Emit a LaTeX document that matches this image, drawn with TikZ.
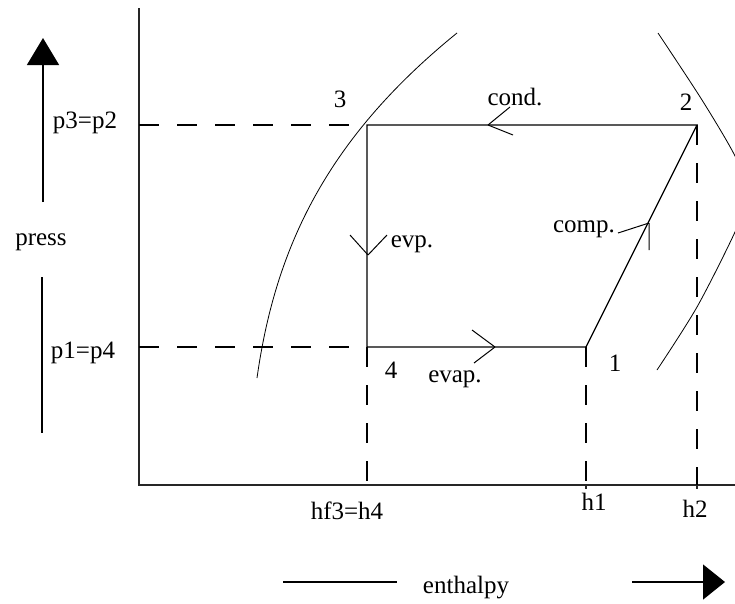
\documentclass[tikz,border=0pt]{standalone}
\usepackage{fontspec}
\setmainfont{Liberation Serif}
\usetikzlibrary{arrows.meta}

\begin{document}
\begin{tikzpicture}[x=1pt, y=-1pt,
  axis/.style={line width=1.4pt, black!85},
  cyc/.style={line width=1.2pt},
  guide/.style={line width=1.2pt, dash pattern=on 20pt off 18pt},
  sat/.style={line width=0.8pt},
  barb/.style={line width=1pt},
  lab/.style={inner sep=0pt, anchor=base, font=\fontsize{25}{30}\selectfont},
  parr/.style={line width=1.3pt, -{Triangle[length=27pt, width=32pt]}},
  harr/.style={line width=1.3pt, -{Triangle[length=22pt, width=35pt]}}]
  \useasboundingbox (0,0) rectangle (735,603);
  % axes
  \coordinate (o) at (139,485);
  \coordinate (ytop) at (139,8);
  \coordinate (xend) at (735,485);
  \draw[axis] (ytop) -- (o) -- (xend);
  % state points
  \coordinate (s1) at (586,347);
  \coordinate (s2) at (697,125);
  \coordinate (s3) at (367,125);
  \coordinate (s4) at (367,347);
  % feet on the axes
  \coordinate (py3) at (139,125);
  \coordinate (py4) at (139,347);
  \coordinate (hx4) at (367,485);
  \coordinate (hx1) at (586,485);
  \coordinate (hx2) at (697,485);
  % guides
  \draw[guide] (py3) -- (s3);
  \draw[guide] (py4) -- (s4);
  \draw[guide] (s4) -- (hx4);
  \draw[guide] (s1) -- (hx1);
  \draw[guide] (s2) -- (hx2);
  \draw[axis] (hx1) -- ++(0,4) (hx2) -- ++(0,4);
  % cycle
  \draw[cyc] (s1) -- (s2) -- (s3) -- (s4) -- (s1);
  % direction marks
  \coordinate (condtip) at (488,125);
  \coordinate (evptip) at (368,255);
  \coordinate (evaptip) at (495,347);
  \coordinate (comptip) at (649,223);
  \draw[barb] (condtip) -- ++(22,-18) (condtip) -- ++(25,10);
  \draw[barb] (evptip) -- ++(-18,-20) (evptip) -- ++(19,-20);
  \draw[barb] (evaptip) -- ++(-23,-17) (evaptip) -- ++(-21,16);
  \draw[barb] (comptip) -- ++(-31,10) (comptip) -- ++(0,27);
  % saturation curves
  \coordinate (liqlo) at (257,378);
  \coordinate (liqhi) at (457,33);
  \draw[sat] (liqlo) .. controls (275,250) and (325,140) .. (liqhi);
  \begin{scope}
    \clip (0,0) rectangle (735,603);
    \draw[sat] plot[smooth] coordinates {(658,33) (702,100) (735,156) (749,194) (735,232) (697,307) (657,370)};
  \end{scope}
  % point labels
  \node[lab] (l3) at (340,107) {3};
  \node[lab] (l2) at (686,110) {2};
  \node[lab] (l4) at (391,378) {4};
  \node[lab] (l1) at (615,371) {1};
  % process labels
  \node[lab] (cond) at (515,105) {cond.};
  \node[lab] (comp) at (584,232) {comp.};
  \node[lab] (evp) at (412,247) {evp.};
  \node[lab] (evap) at (455,382) {evap.};
  % pressure side
  \node[lab] (pk) at (85,128) {p3=p2};
  \node[lab] (pe) at (83,358) {p1=p4};
  \node[lab] (press) at (41,245) {press};
  \coordinate (pbot) at (43,202);
  \coordinate (ptop) at (43,38);
  \coordinate (plo) at (42,277);
  \coordinate (plo2) at (42,433);
  \draw[parr] (pbot) -- (ptop);
  \draw[line width=1.3pt] (plo) -- (plo2);
  % enthalpy side
  \node[lab] (hf) at (347,519) {hf3=h4};
  \node[lab] (h1) at (594,510) {h1};
  \node[lab] (h2) at (695,517) {h2};
  \node[lab] (enth) at (466,593) {enthalpy};
  \coordinate (ha) at (283,582);
  \coordinate (hb) at (397,582);
  \coordinate (hc) at (632,582);
  \coordinate (hd) at (725,582);
  \draw[line width=1.3pt] (ha) -- (hb);
  \draw[harr] (hc) -- (hd);
\end{tikzpicture}
\end{document}
